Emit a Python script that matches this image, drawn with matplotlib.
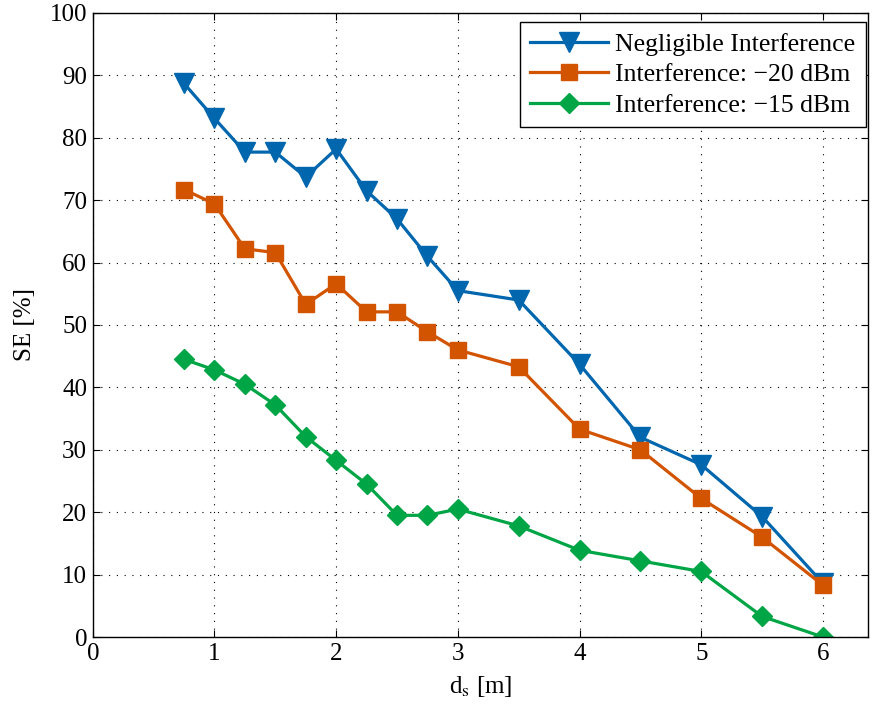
import matplotlib.pyplot as plt

# distances d_s [m]
d_s = [0.75, 1, 1.25, 1.5, 1.75, 2, 2.25, 2.5, 2.75, 3, 3.5, 4, 4.5, 5, 5.5, 6]

# spectral efficiency [%] per scenario
se_negligible = [88.7, 83.1, 77.7, 77.7, 73.7, 78.2, 71.5, 67.0, 61.0, 55.5, 54.0, 43.7, 32.0, 27.6, 19.3, 8.6]
se_minus20 = [71.7, 69.4, 62.2, 61.6, 53.3, 56.6, 52.1, 52.1, 48.9, 46.0, 43.3, 33.3, 30.0, 22.2, 16.0, 8.3]
se_minus15 = [44.5, 42.8, 40.5, 37.2, 32.1, 28.3, 24.5, 19.5, 19.5, 20.5, 17.8, 13.9, 12.2, 10.5, 3.3, 0.0]

labels = ['Negligible Interference', 'Interference: \u221220 dBm', 'Interference: \u221215 dBm']

plt.rcParams['font.family'] = ['Liberation Serif', 'DejaVu Serif']
plt.rcParams['mathtext.fontset'] = 'stix'

fig = plt.figure(figsize=(8.75, 7.06), dpi=100)
ax = fig.add_axes([0.106, 0.0977, 0.886, 0.884])

ax.plot(d_s, se_negligible, color='#0066AE', lw=2.3, marker='v', ms=14, label=labels[0])
ax.plot(d_s, se_minus20, color='#D35400', lw=2.3, marker='s', ms=11, label=labels[1])
ax.plot(d_s, se_minus15, color='#00A546', lw=2.3, marker='D', ms=10.5, label=labels[2])

ax.set_xlim(0, 6.37)
ax.set_ylim(0, 100)
ax.set_xticks(range(0, 7))
ax.set_yticks(range(0, 101, 10))
ax.tick_params(direction='in', top=True, right=True, labelsize=18, length=5, width=0.8, pad=4)
ax.grid(True, color='black', linestyle=(0, (1, 6)), linewidth=0.8)
for s in ax.spines.values():
    s.set_linewidth(1.0)

ax.set_xlabel(r'd$_{\mathrm{s}}$ [m]', fontsize=18, labelpad=7)
ax.set_ylabel('SE [%]', fontsize=18, labelpad=10)

leg = ax.legend(loc='upper right', bbox_to_anchor=(0.997, 0.985), fontsize=18.5,
                frameon=True, fancybox=False, edgecolor='black', framealpha=1,
                borderpad=0.4, labelspacing=0.3, handlelength=3.0,
                handletextpad=0.3, borderaxespad=0.0)
leg.get_frame().set_linewidth(1.0)

fig.savefig('out.png', dpi=100)
